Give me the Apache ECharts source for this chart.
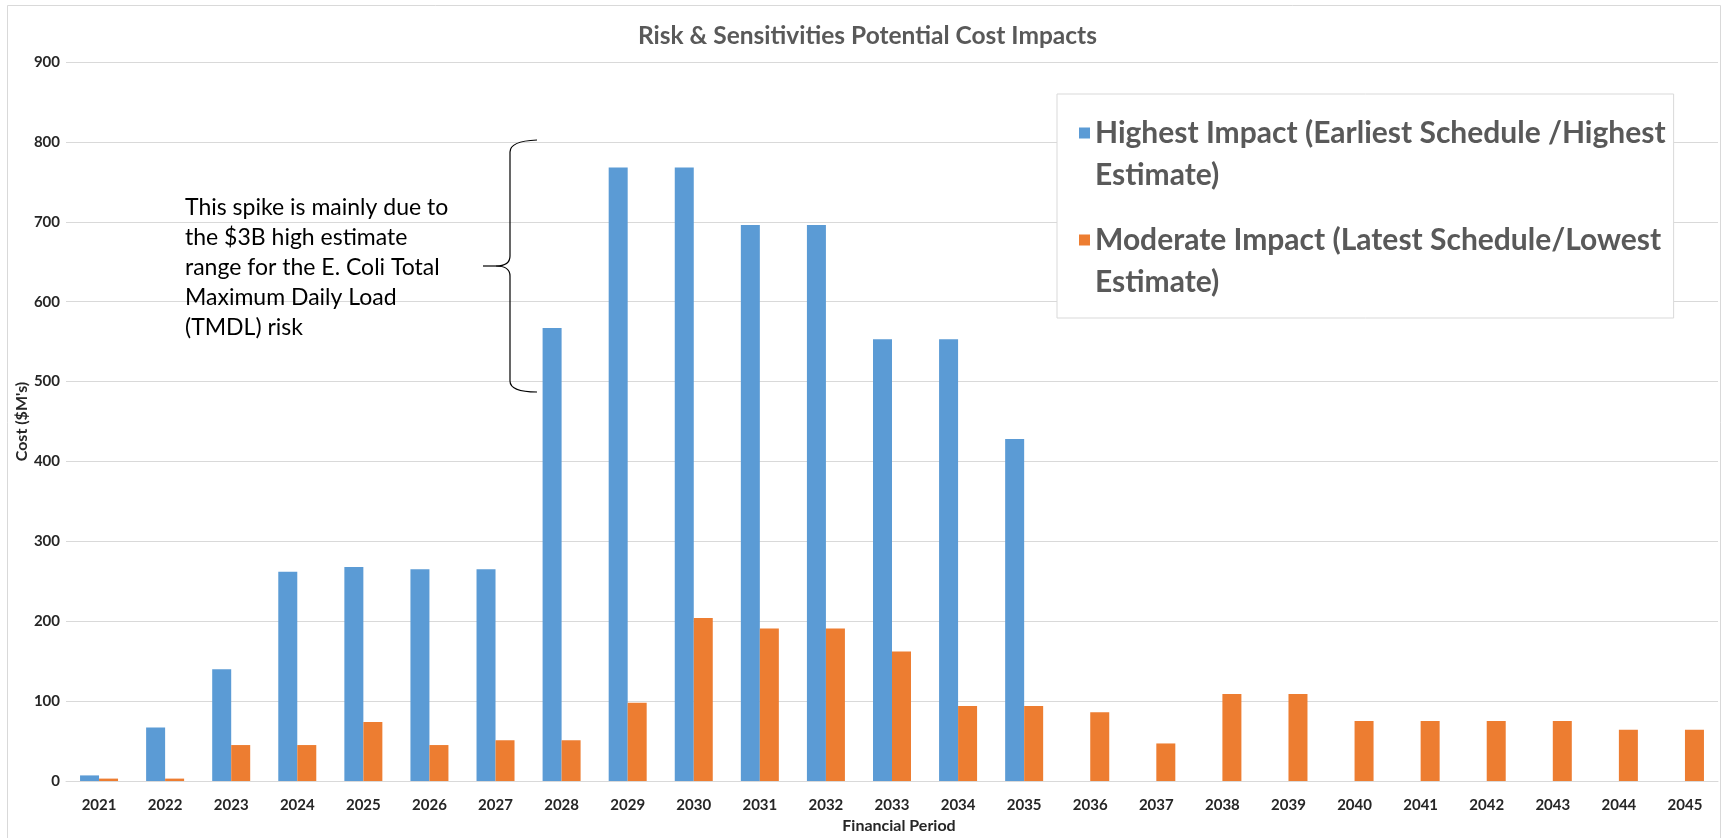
<!DOCTYPE html>
<html>
<head>
<meta charset="utf-8">
<title>Risk & Sensitivities Potential Cost Impacts</title>
<script src="https://cdn.jsdelivr.net/npm/echarts@6/dist/echarts.min.js"></script>
<style>
  html, body { margin: 0; padding: 0; background: #fff; }
  #chart { width: 1735px; height: 838px; }
</style>
</head>
<body>
<div id="chart"></div>
<script>
// Financial periods on the x axis
const years = ['2021', '2022', '2023', '2024', '2025', '2026', '2027', '2028', '2029', '2030',
  '2031', '2032', '2033', '2034', '2035', '2036', '2037', '2038', '2039', '2040',
  '2041', '2042', '2043', '2044', '2045'];

// Cost ($M) per period, earliest schedule / highest estimate
const highestImpact = [7, 67, 140, 262, 268, 265, 265, 567, 768, 768,
  696, 696, 553, 553, 428, null, null, null, null, null,
  null, null, null, null, null];

// Cost ($M) per period, latest schedule / lowest estimate
const moderateImpact = [3, 3, 45, 45, 74, 45, 51, 51, 98, 204,
  191, 191, 162, 94, 94, 86, 47, 109, 109, 75,
  75, 75, 75, 64, 64];

// Value axis ticks
const yTicks = { min: 0, max: 900, interval: 100 };

const seriesNames = [
  'Highest Impact (Earliest Schedule /Highest Estimate)',
  'Moderate Impact (Latest Schedule/Lowest Estimate)'
];

const noteText = 'This spike is mainly due to\nthe $3B high estimate\nrange for the E. Coli Total\nMaximum Daily Load\n(TMDL) risk';

const FONT = 'Lato, "Open Sans", sans-serif';
const gridColor = '#D9D9D9';
const labelColor = '#262626';

// curly brace drawn from simple segments
const braceStyle = { stroke: '#000', lineWidth: 1.2, fill: 'none' };
function braceCurve(x1, y1, cx, cy, x2, y2) {
  return { type: 'bezierCurve', silent: true, z: 10,
    shape: { x1: x1, y1: y1, cpx1: cx, cpy1: cy, x2: x2, y2: y2 }, style: braceStyle };
}
function braceLine(x1, y1, x2, y2) {
  return { type: 'line', silent: true, z: 10,
    shape: { x1: x1, y1: y1, x2: x2, y2: y2 }, style: braceStyle };
}

const chart = echarts.init(document.getElementById('chart'));

chart.setOption({
  animation: false,
  backgroundColor: '#fff',
  title: {
    text: 'Risk & Sensitivities Potential Cost Impacts',
    left: 'center',
    top: 19,
    textStyle: { fontFamily: FONT, fontWeight: 'bold', fontSize: 24.5, color: '#595959' }
  },
  legend: {
    orient: 'vertical',
    left: 1057,
    top: 94,
    padding: [18, 8, 15, 22],
    itemGap: 23,
    itemWidth: 11,
    itemHeight: 53,
    // square marker sitting on the first text line
    icon: 'path://M0,0h10v10h-10zM0,48h10v0h-10z',
    backgroundColor: '#fff',
    borderColor: gridColor,
    borderWidth: 1,
    selectedMode: false,
    data: seriesNames,
    formatter: function (name) { return name.replace(' Estimate)', '\nEstimate)'); },
    textStyle: { fontFamily: FONT, fontWeight: 'bold', fontSize: 30, lineHeight: 42, color: '#595959' }
  },
  grid: {
    left: 66,
    right: 17,
    top: 62,
    bottom: 57,
    outerBoundsMode: 'none'
  },
  xAxis: {
    type: 'category',
    data: years,
    axisTick: { show: false },
    axisLine: { lineStyle: { color: gridColor, width: 1 } },
    axisLabel: { margin: 17, fontFamily: FONT, fontWeight: 'bold', fontSize: 15, color: labelColor },
    name: 'Financial Period',
    nameLocation: 'middle',
    nameGap: 37,
    nameTextStyle: { fontFamily: FONT, fontWeight: 'bold', fontSize: 16, color: labelColor, padding: [0, 0, 0, 14] }
  },
  yAxis: {
    type: 'value',
    min: yTicks.min,
    max: yTicks.max,
    interval: yTicks.interval,
    axisLine: { show: false },
    axisTick: { show: false },
    splitLine: { lineStyle: { color: gridColor, width: 1 } },
    axisLabel: { margin: 6, fontFamily: FONT, fontWeight: 'bold', fontSize: 15, color: labelColor },
    name: "Cost ($M's)",
    nameLocation: 'middle',
    nameGap: 36,
    nameMoveOverlap: false,
    nameTextStyle: { fontFamily: FONT, fontWeight: 'bold', fontSize: 16, color: labelColor }
  },
  series: [
    {
      name: seriesNames[0],
      type: 'bar',
      data: highestImpact,
      barWidth: 19,
      barGap: '0%',
      itemStyle: { color: '#5B9BD5' }
    },
    {
      name: seriesNames[1],
      type: 'bar',
      data: moderateImpact,
      barWidth: 19,
      barGap: '0%',
      itemStyle: { color: '#ED7D31' }
    }
  ],
  graphic: [
    {
      // outer chart frame
      type: 'rect',
      silent: true,
      z: -10,
      shape: { x: 7.5, y: 5.5, width: 1713, height: 850 },
      style: { fill: 'none', stroke: gridColor, lineWidth: 1 }
    },
    {
      type: 'text',
      z: 10,
      silent: true,
      x: 185,
      y: 193,
      style: {
        text: noteText,
        fontFamily: FONT,
        fontSize: 23,
        lineHeight: 30,
        fill: '#000',
        verticalAlign: 'top'
      }
    },
    braceCurve(537, 140, 510, 141, 510, 152),
    braceLine(510, 152, 510, 256),
    braceCurve(510, 256, 510, 266, 496, 266),
    braceLine(496, 266, 483, 266),
    braceCurve(496, 266, 510, 266, 510, 276),
    braceLine(510, 276, 510, 381),
    braceCurve(510, 381, 510, 392, 537, 392)
  ]
});
</script>
</body>
</html>
